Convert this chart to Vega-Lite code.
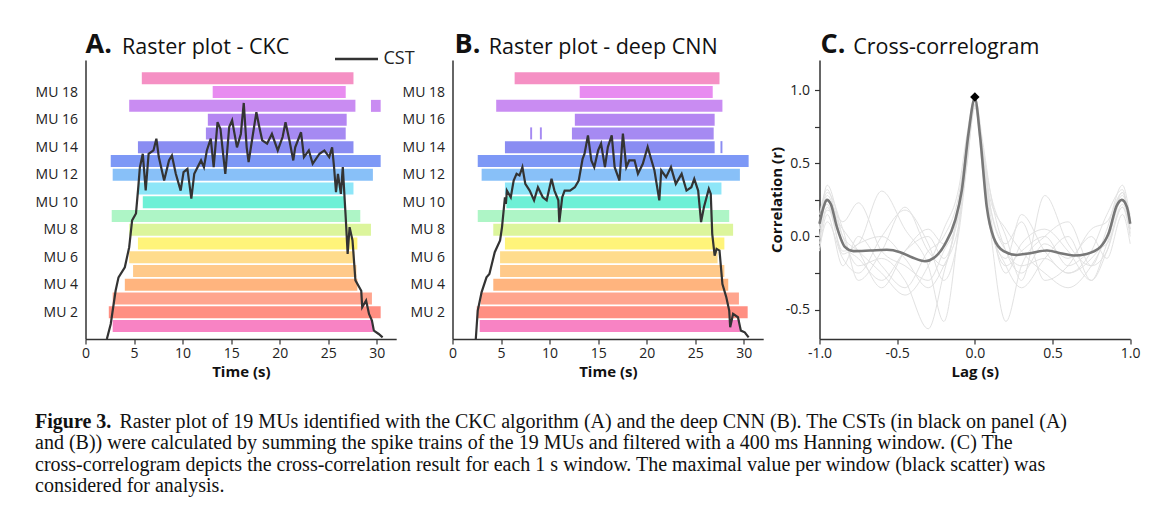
{
  "$schema": "https://vega.github.io/schema/vega-lite/v6.json",
  "background": "white",
  "padding": {"left": 34.5, "top": 31, "right": 10, "bottom": 10},
  "config": {
    "font": "Open Sans",
    "view": {"stroke": null},
    "axis": {"labelFont": "Open Sans", "labelFontSize": 14, "labelColor": "#222", "titleFont": "Open Sans", "titleFontSize": 15, "titleFontWeight": "bold", "titleColor": "#111", "domainColor": "#333", "domainWidth": 1.5, "tickColor": "#333", "tickWidth": 1.2, "grid": false, "labelFlush": false}
  },
  "datasets": {
    "rasterA": [
      {"mu": 1, "s": 2.8, "e": 29.6}, {"mu": 2, "s": 2.4, "e": 30.4}, {"mu": 3, "s": 2.8, "e": 29.5}, {"mu": 4, "s": 4.05, "e": 28.0},
      {"mu": 5, "s": 4.9, "e": 27.9}, {"mu": 6, "s": 4.5, "e": 27.7}, {"mu": 7, "s": 5.4, "e": 28.0}, {"mu": 8, "s": 4.5, "e": 29.4},
      {"mu": 9, "s": 2.7, "e": 28.3}, {"mu": 10, "s": 5.9, "e": 26.7}, {"mu": 11, "s": 5.4, "e": 27.6}, {"mu": 12, "s": 2.8, "e": 29.6},
      {"mu": 13, "s": 2.6, "e": 30.4}, {"mu": 14, "s": 5.4, "e": 27.6}, {"mu": 15, "s": 12.4, "e": 26.8}, {"mu": 16, "s": 12.6, "e": 26.9},
      {"mu": 17, "s": 4.5, "e": 27.8}, {"mu": 17, "s": 29.4, "e": 30.4}, {"mu": 18, "s": 13.1, "e": 26.8}, {"mu": 19, "s": 5.8, "e": 27.6}
    ],
    "rasterB": [
      {"mu": 1, "s": 2.8, "e": 29.6}, {"mu": 2, "s": 2.5, "e": 30.4}, {"mu": 3, "s": 2.9, "e": 29.5}, {"mu": 4, "s": 4.2, "e": 28.4},
      {"mu": 5, "s": 4.9, "e": 28.0}, {"mu": 6, "s": 4.9, "e": 27.3}, {"mu": 7, "s": 5.4, "e": 28.0}, {"mu": 8, "s": 4.2, "e": 28.9},
      {"mu": 9, "s": 2.6, "e": 28.5}, {"mu": 10, "s": 5.55, "e": 26.5}, {"mu": 11, "s": 5.4, "e": 27.7}, {"mu": 12, "s": 3.0, "e": 29.6},
      {"mu": 13, "s": 2.6, "e": 30.5}, {"mu": 14, "s": 5.4, "e": 27.0}, {"mu": 14, "s": 27.6, "e": 27.8}, {"mu": 15, "s": 8.0, "e": 8.2},
      {"mu": 15, "s": 9.0, "e": 9.2}, {"mu": 15, "s": 12.3, "e": 26.9}, {"mu": 16, "s": 12.6, "e": 27.0}, {"mu": 17, "s": 4.5, "e": 27.8},
      {"mu": 18, "s": 13.1, "e": 26.8}, {"mu": 19, "s": 6.4, "e": 27.5}
    ],
    "cstA": [
      {"t": 2.2, "v": 0}, {"t": 2.6, "v": 5.4}, {"t": 3.1, "v": 17.3}, {"t": 3.4, "v": 22.1}, {"t": 4.05, "v": 25.7}, {"t": 4.5, "v": 32.9},
      {"t": 4.8, "v": 42.5}, {"t": 5.2, "v": 45}, {"t": 5.45, "v": 55}, {"t": 5.6, "v": 61.5}, {"t": 5.9, "v": 66.4}, {"t": 6.2, "v": 53.3},
      {"t": 6.5, "v": 66.4}, {"t": 7.0, "v": 67.6}, {"t": 7.3, "v": 71.8}, {"t": 7.55, "v": 65.2}, {"t": 8.1, "v": 56.8}, {"t": 8.6, "v": 64.0},
      {"t": 8.9, "v": 65.8}, {"t": 9.3, "v": 59.2}, {"t": 9.8, "v": 53.2}, {"t": 10.1, "v": 59.8}, {"t": 10.5, "v": 61.0}, {"t": 10.9, "v": 50.3},
      {"t": 11.2, "v": 59.2}, {"t": 11.9, "v": 64.0}, {"t": 12.2, "v": 61.6}, {"t": 12.5, "v": 67.6}, {"t": 12.9, "v": 71.8}, {"t": 13.2, "v": 61.6},
      {"t": 13.6, "v": 77.7}, {"t": 13.9, "v": 75.3}, {"t": 14.1, "v": 68.7}, {"t": 14.4, "v": 59.2}, {"t": 14.8, "v": 76.0}, {"t": 15.1, "v": 78.4},
      {"t": 15.6, "v": 68.7}, {"t": 16.0, "v": 73.5}, {"t": 16.3, "v": 84.6}, {"t": 16.6, "v": 68.7}, {"t": 16.8, "v": 63.4}, {"t": 17.2, "v": 72.4},
      {"t": 17.6, "v": 81.3}, {"t": 17.9, "v": 76.0}, {"t": 18.2, "v": 71.2}, {"t": 18.7, "v": 70.0}, {"t": 19.2, "v": 73.5}, {"t": 19.8, "v": 67.6},
      {"t": 20.3, "v": 72.4}, {"t": 20.6, "v": 77.7}, {"t": 21.0, "v": 71.2}, {"t": 21.4, "v": 64.0}, {"t": 21.6, "v": 68.7}, {"t": 22.2, "v": 74.1},
      {"t": 22.5, "v": 65.2}, {"t": 23.0, "v": 67.6}, {"t": 23.4, "v": 62.8}, {"t": 24.1, "v": 66.4}, {"t": 24.6, "v": 67.6}, {"t": 25.1, "v": 65.2},
      {"t": 25.4, "v": 68.7}, {"t": 25.6, "v": 61.6}, {"t": 25.8, "v": 52.6}, {"t": 26.0, "v": 59.2}, {"t": 26.3, "v": 52.0}, {"t": 26.5, "v": 61.6},
      {"t": 26.8, "v": 43.6}, {"t": 27.0, "v": 30.5}, {"t": 27.2, "v": 40.1}, {"t": 27.5, "v": 35.3}, {"t": 27.8, "v": 21.0}, {"t": 28.4, "v": 17.3},
      {"t": 28.5, "v": 11.4}, {"t": 28.9, "v": 13.8}, {"t": 29.2, "v": 9.0}, {"t": 29.5, "v": 6.6}, {"t": 29.7, "v": 3.0}, {"t": 30.2, "v": 1.8},
      {"t": 30.6, "v": 0.6}
    ],
    "cstB": [
      {"t": 2.4, "v": 0}, {"t": 2.6, "v": 10.2}, {"t": 3.0, "v": 16.8}, {"t": 3.5, "v": 22.1}, {"t": 3.8, "v": 23.3}, {"t": 4.35, "v": 31.1},
      {"t": 4.9, "v": 35.3}, {"t": 5.1, "v": 40.1}, {"t": 5.4, "v": 50.8}, {"t": 5.5, "v": 48.4}, {"t": 5.6, "v": 53.2}, {"t": 6.0, "v": 50.8},
      {"t": 6.3, "v": 56.8}, {"t": 6.6, "v": 59.2}, {"t": 6.9, "v": 58.6}, {"t": 7.2, "v": 61.6}, {"t": 7.5, "v": 55.6}, {"t": 7.95, "v": 53.2},
      {"t": 8.4, "v": 49.7}, {"t": 8.8, "v": 54.4}, {"t": 9.3, "v": 50.8}, {"t": 9.7, "v": 49.7}, {"t": 10.2, "v": 57.4}, {"t": 10.5, "v": 53.2},
      {"t": 10.9, "v": 49.7}, {"t": 11.0, "v": 41.9}, {"t": 11.3, "v": 50.8}, {"t": 11.55, "v": 53.2}, {"t": 12.1, "v": 53.2}, {"t": 12.6, "v": 54.4},
      {"t": 13.0, "v": 56.8}, {"t": 13.4, "v": 64.6}, {"t": 13.6, "v": 66.4}, {"t": 13.95, "v": 73.0}, {"t": 14.3, "v": 64.0}, {"t": 14.6, "v": 61.6},
      {"t": 15.0, "v": 67.6}, {"t": 15.3, "v": 70.0}, {"t": 15.7, "v": 61.6}, {"t": 16.0, "v": 68.8}, {"t": 16.4, "v": 73.0}, {"t": 16.7, "v": 61.6},
      {"t": 17.2, "v": 56.8}, {"t": 17.55, "v": 73.6}, {"t": 17.9, "v": 61.6}, {"t": 18.2, "v": 64.0}, {"t": 18.75, "v": 64.0}, {"t": 19.1, "v": 59.2},
      {"t": 19.6, "v": 62.8}, {"t": 20.1, "v": 68.8}, {"t": 20.5, "v": 64.0}, {"t": 20.8, "v": 60.4}, {"t": 21.3, "v": 49.7}, {"t": 21.5, "v": 60.4},
      {"t": 22.0, "v": 58.0}, {"t": 22.5, "v": 61.6}, {"t": 23.0, "v": 55.6}, {"t": 23.6, "v": 59.2}, {"t": 24.1, "v": 53.2}, {"t": 24.6, "v": 54.4},
      {"t": 24.9, "v": 57.4}, {"t": 25.3, "v": 53.2}, {"t": 25.6, "v": 41.9}, {"t": 25.9, "v": 47.3}, {"t": 26.4, "v": 53.8}, {"t": 26.6, "v": 52.0},
      {"t": 26.75, "v": 37.7}, {"t": 27.0, "v": 29.9}, {"t": 27.2, "v": 32.3}, {"t": 27.5, "v": 31.7}, {"t": 27.8, "v": 19.7}, {"t": 28.2, "v": 15.0},
      {"t": 28.5, "v": 10.2}, {"t": 28.6, "v": 4.2}, {"t": 28.9, "v": 9.0}, {"t": 29.4, "v": 7.8}, {"t": 29.7, "v": 3.0}, {"t": 30.1, "v": 2.4},
      {"t": 30.5, "v": 0.6}
    ],
    "xcorr": [
      {"g": "g1", "lag": -1, "r": 0.05}, {"g": "g1", "lag": -0.95, "r": 0.35}, {"g": "g1", "lag": -0.85, "r": 0.0}, {"g": "g1", "lag": -0.75, "r": -0.2}, {"g": "g1", "lag": -0.6, "r": -0.15}, {"g": "g1", "lag": -0.45, "r": -0.3}, {"g": "g1", "lag": -0.3, "r": -0.63}, {"g": "g1", "lag": -0.2, "r": -0.25}, {"g": "g1", "lag": -0.1, "r": 0.2}, {"g": "g1", "lag": -0.05, "r": 0.6}, {"g": "g1", "lag": 0, "r": 0.9}, {"g": "g1", "lag": 0.05, "r": 0.6}, {"g": "g1", "lag": 0.1, "r": 0.2}, {"g": "g1", "lag": 0.2, "r": -0.1}, {"g": "g1", "lag": 0.3, "r": -0.2}, {"g": "g1", "lag": 0.45, "r": -0.15}, {"g": "g1", "lag": 0.6, "r": -0.25}, {"g": "g1", "lag": 0.75, "r": -0.15}, {"g": "g1", "lag": 0.85, "r": 0.0}, {"g": "g1", "lag": 0.95, "r": 0.3}, {"g": "g1", "lag": 1, "r": 0.1},
      {"g": "g2", "lag": -1, "r": -0.05}, {"g": "g2", "lag": -0.95, "r": 0.2}, {"g": "g2", "lag": -0.85, "r": -0.1}, {"g": "g2", "lag": -0.75, "r": -0.05}, {"g": "g2", "lag": -0.6, "r": 0.31}, {"g": "g2", "lag": -0.45, "r": 0.05}, {"g": "g2", "lag": -0.3, "r": -0.2}, {"g": "g2", "lag": -0.2, "r": -0.58}, {"g": "g2", "lag": -0.1, "r": 0.1}, {"g": "g2", "lag": -0.05, "r": 0.55}, {"g": "g2", "lag": 0, "r": 0.92}, {"g": "g2", "lag": 0.05, "r": 0.5}, {"g": "g2", "lag": 0.1, "r": 0.1}, {"g": "g2", "lag": 0.2, "r": -0.2}, {"g": "g2", "lag": 0.3, "r": -0.1}, {"g": "g2", "lag": 0.45, "r": 0.0}, {"g": "g2", "lag": 0.6, "r": -0.2}, {"g": "g2", "lag": 0.75, "r": -0.1}, {"g": "g2", "lag": 0.85, "r": -0.05}, {"g": "g2", "lag": 0.95, "r": 0.2}, {"g": "g2", "lag": 1, "r": 0.05},
      {"g": "g3", "lag": -1, "r": 0.1}, {"g": "g3", "lag": -0.95, "r": 0.3}, {"g": "g3", "lag": -0.85, "r": 0.05}, {"g": "g3", "lag": -0.75, "r": -0.3}, {"g": "g3", "lag": -0.6, "r": -0.1}, {"g": "g3", "lag": -0.45, "r": 0.2}, {"g": "g3", "lag": -0.3, "r": -0.1}, {"g": "g3", "lag": -0.2, "r": -0.2}, {"g": "g3", "lag": -0.1, "r": 0.25}, {"g": "g3", "lag": -0.05, "r": 0.6}, {"g": "g3", "lag": 0, "r": 0.9}, {"g": "g3", "lag": 0.05, "r": 0.55}, {"g": "g3", "lag": 0.1, "r": 0.05}, {"g": "g3", "lag": 0.2, "r": -0.58}, {"g": "g3", "lag": 0.3, "r": -0.2}, {"g": "g3", "lag": 0.45, "r": 0.0}, {"g": "g3", "lag": 0.6, "r": 0.1}, {"g": "g3", "lag": 0.75, "r": -0.2}, {"g": "g3", "lag": 0.85, "r": 0.05}, {"g": "g3", "lag": 0.95, "r": 0.35}, {"g": "g3", "lag": 1, "r": 0.12},
      {"g": "g4", "lag": -1, "r": -0.1}, {"g": "g4", "lag": -0.95, "r": 0.15}, {"g": "g4", "lag": -0.85, "r": -0.2}, {"g": "g4", "lag": -0.75, "r": 0.0}, {"g": "g4", "lag": -0.6, "r": -0.2}, {"g": "g4", "lag": -0.45, "r": -0.35}, {"g": "g4", "lag": -0.3, "r": -0.1}, {"g": "g4", "lag": -0.2, "r": 0.0}, {"g": "g4", "lag": -0.1, "r": 0.3}, {"g": "g4", "lag": -0.05, "r": 0.65}, {"g": "g4", "lag": 0, "r": 0.95}, {"g": "g4", "lag": 0.05, "r": 0.6}, {"g": "g4", "lag": 0.1, "r": 0.3}, {"g": "g4", "lag": 0.2, "r": 0.0}, {"g": "g4", "lag": 0.3, "r": -0.3}, {"g": "g4", "lag": 0.45, "r": 0.28}, {"g": "g4", "lag": 0.6, "r": -0.05}, {"g": "g4", "lag": 0.75, "r": -0.2}, {"g": "g4", "lag": 0.85, "r": -0.1}, {"g": "g4", "lag": 0.95, "r": 0.2}, {"g": "g4", "lag": 1, "r": 0.0},
      {"g": "g5", "lag": -1, "r": 0.0}, {"g": "g5", "lag": -0.95, "r": 0.25}, {"g": "g5", "lag": -0.85, "r": 0.1}, {"g": "g5", "lag": -0.75, "r": 0.23}, {"g": "g5", "lag": -0.6, "r": -0.1}, {"g": "g5", "lag": -0.45, "r": -0.2}, {"g": "g5", "lag": -0.3, "r": -0.3}, {"g": "g5", "lag": -0.2, "r": -0.1}, {"g": "g5", "lag": -0.1, "r": 0.15}, {"g": "g5", "lag": -0.05, "r": 0.5}, {"g": "g5", "lag": 0, "r": 0.88}, {"g": "g5", "lag": 0.05, "r": 0.55}, {"g": "g5", "lag": 0.1, "r": 0.2}, {"g": "g5", "lag": 0.2, "r": -0.05}, {"g": "g5", "lag": 0.3, "r": 0.1}, {"g": "g5", "lag": 0.45, "r": -0.3}, {"g": "g5", "lag": 0.6, "r": -0.2}, {"g": "g5", "lag": 0.75, "r": 0.05}, {"g": "g5", "lag": 0.85, "r": 0.1}, {"g": "g5", "lag": 0.95, "r": 0.3}, {"g": "g5", "lag": 1, "r": 0.05},
      {"g": "g6", "lag": -1, "r": 0.15}, {"g": "g6", "lag": -0.95, "r": 0.32}, {"g": "g6", "lag": -0.85, "r": -0.05}, {"g": "g6", "lag": -0.75, "r": -0.15}, {"g": "g6", "lag": -0.6, "r": -0.3}, {"g": "g6", "lag": -0.45, "r": -0.1}, {"g": "g6", "lag": -0.3, "r": 0.0}, {"g": "g6", "lag": -0.2, "r": -0.15}, {"g": "g6", "lag": -0.1, "r": 0.2}, {"g": "g6", "lag": -0.05, "r": 0.58}, {"g": "g6", "lag": 0, "r": 0.93}, {"g": "g6", "lag": 0.05, "r": 0.52}, {"g": "g6", "lag": 0.1, "r": 0.1}, {"g": "g6", "lag": 0.2, "r": -0.2}, {"g": "g6", "lag": 0.3, "r": -0.35}, {"g": "g6", "lag": 0.45, "r": -0.15}, {"g": "g6", "lag": 0.6, "r": 0.0}, {"g": "g6", "lag": 0.75, "r": -0.3}, {"g": "g6", "lag": 0.85, "r": -0.05}, {"g": "g6", "lag": 0.95, "r": 0.25}, {"g": "g6", "lag": 1, "r": 0.15},
      {"g": "g7", "lag": -1, "r": -0.08}, {"g": "g7", "lag": -0.95, "r": 0.1}, {"g": "g7", "lag": -0.85, "r": -0.15}, {"g": "g7", "lag": -0.75, "r": -0.25}, {"g": "g7", "lag": -0.6, "r": 0.0}, {"g": "g7", "lag": -0.45, "r": 0.18}, {"g": "g7", "lag": -0.3, "r": -0.05}, {"g": "g7", "lag": -0.2, "r": -0.3}, {"g": "g7", "lag": -0.1, "r": 0.05}, {"g": "g7", "lag": -0.05, "r": 0.5}, {"g": "g7", "lag": 0, "r": 0.9}, {"g": "g7", "lag": 0.05, "r": 0.45}, {"g": "g7", "lag": 0.1, "r": 0.05}, {"g": "g7", "lag": 0.2, "r": -0.15}, {"g": "g7", "lag": 0.3, "r": 0.15}, {"g": "g7", "lag": 0.45, "r": -0.1}, {"g": "g7", "lag": 0.6, "r": -0.25}, {"g": "g7", "lag": 0.75, "r": -0.1}, {"g": "g7", "lag": 0.85, "r": 0.15}, {"g": "g7", "lag": 0.95, "r": 0.32}, {"g": "g7", "lag": 1, "r": 0.02},
      {"g": "g8", "lag": -1, "r": 0.05}, {"g": "g8", "lag": -0.95, "r": 0.28}, {"g": "g8", "lag": -0.85, "r": 0.0}, {"g": "g8", "lag": -0.75, "r": -0.1}, {"g": "g8", "lag": -0.6, "r": -0.25}, {"g": "g8", "lag": -0.45, "r": -0.4}, {"g": "g8", "lag": -0.3, "r": -0.2}, {"g": "g8", "lag": -0.2, "r": 0.05}, {"g": "g8", "lag": -0.1, "r": 0.35}, {"g": "g8", "lag": -0.05, "r": 0.7}, {"g": "g8", "lag": 0, "r": 0.95}, {"g": "g8", "lag": 0.05, "r": 0.65}, {"g": "g8", "lag": 0.1, "r": 0.3}, {"g": "g8", "lag": 0.2, "r": -0.1}, {"g": "g8", "lag": 0.3, "r": -0.25}, {"g": "g8", "lag": 0.45, "r": -0.05}, {"g": "g8", "lag": 0.6, "r": -0.15}, {"g": "g8", "lag": 0.75, "r": 0.0}, {"g": "g8", "lag": 0.85, "r": -0.15}, {"g": "g8", "lag": 0.95, "r": 0.15}, {"g": "g8", "lag": 1, "r": -0.05},
      {"g": "g9", "lag": -1, "r": 0.12}, {"g": "g9", "lag": -0.95, "r": 0.22}, {"g": "g9", "lag": -0.85, "r": -0.12}, {"g": "g9", "lag": -0.75, "r": -0.05}, {"g": "g9", "lag": -0.6, "r": 0.0}, {"g": "g9", "lag": -0.45, "r": -0.15}, {"g": "g9", "lag": -0.3, "r": -0.35}, {"g": "g9", "lag": -0.2, "r": -0.2}, {"g": "g9", "lag": -0.1, "r": 0.1}, {"g": "g9", "lag": -0.05, "r": 0.55}, {"g": "g9", "lag": 0, "r": 0.9}, {"g": "g9", "lag": 0.05, "r": 0.6}, {"g": "g9", "lag": 0.1, "r": 0.25}, {"g": "g9", "lag": 0.2, "r": 0.05}, {"g": "g9", "lag": 0.3, "r": -0.1}, {"g": "g9", "lag": 0.45, "r": -0.25}, {"g": "g9", "lag": 0.6, "r": -0.35}, {"g": "g9", "lag": 0.75, "r": -0.2}, {"g": "g9", "lag": 0.85, "r": 0.0}, {"g": "g9", "lag": 0.95, "r": 0.28}, {"g": "g9", "lag": 1, "r": 0.1},
      {"g": "g10", "lag": -1, "r": -0.02}, {"g": "g10", "lag": -0.95, "r": 0.18}, {"g": "g10", "lag": -0.85, "r": 0.05}, {"g": "g10", "lag": -0.75, "r": -0.1}, {"g": "g10", "lag": -0.6, "r": -0.35}, {"g": "g10", "lag": -0.45, "r": -0.1}, {"g": "g10", "lag": -0.3, "r": 0.05}, {"g": "g10", "lag": -0.2, "r": -0.05}, {"g": "g10", "lag": -0.1, "r": 0.25}, {"g": "g10", "lag": -0.05, "r": 0.62}, {"g": "g10", "lag": 0, "r": 0.92}, {"g": "g10", "lag": 0.05, "r": 0.58}, {"g": "g10", "lag": 0.1, "r": 0.15}, {"g": "g10", "lag": 0.2, "r": -0.25}, {"g": "g10", "lag": 0.3, "r": -0.05}, {"g": "g10", "lag": 0.45, "r": 0.05}, {"g": "g10", "lag": 0.6, "r": -0.1}, {"g": "g10", "lag": 0.75, "r": -0.3}, {"g": "g10", "lag": 0.85, "r": -0.1}, {"g": "g10", "lag": 0.95, "r": 0.22}, {"g": "g10", "lag": 1, "r": 0.08}
    ],
    "meanC": [
      {"lag": -1, "r": 0.087}, {"lag": -0.974, "r": 0.2}, {"lag": -0.953, "r": 0.25}, {"lag": -0.927, "r": 0.22}, {"lag": -0.888, "r": 0.064},
      {"lag": -0.835, "r": -0.073}, {"lag": -0.781, "r": -0.1}, {"lag": -0.674, "r": -0.096}, {"lag": -0.567, "r": -0.091}, {"lag": -0.481, "r": -0.107},
      {"lag": -0.406, "r": -0.142}, {"lag": -0.32, "r": -0.169}, {"lag": -0.266, "r": -0.148}, {"lag": -0.191, "r": -0.05}, {"lag": -0.127, "r": 0.11},
      {"lag": -0.084, "r": 0.315}, {"lag": -0.041, "r": 0.703}, {"lag": 0, "r": 0.943}, {"lag": 0.034, "r": 0.68}, {"lag": 0.077, "r": 0.2},
      {"lag": 0.12, "r": -0.005}, {"lag": 0.185, "r": -0.1}, {"lag": 0.27, "r": -0.126}, {"lag": 0.356, "r": -0.114}, {"lag": 0.464, "r": -0.096},
      {"lag": 0.55, "r": -0.114}, {"lag": 0.635, "r": -0.13}, {"lag": 0.72, "r": -0.119}, {"lag": 0.807, "r": -0.073}, {"lag": 0.86, "r": 0.018},
      {"lag": 0.914, "r": 0.212}, {"lag": 0.946, "r": 0.25}, {"lag": 0.979, "r": 0.2}, {"lag": 1, "r": 0.087}
    ],
    "peakC": [{"lag": 0, "r": 0.953}],
    "caption": [
      {"line": 1, "part": "b", "text": "Figure 3."},
      {"line": 1, "part": "h", "text": "Raster plot of 19 MUs identified with the CKC algorithm (A) and the deep CNN (B). The CSTs (in black on panel (A)"},
      {"line": 2, "part": "n", "text": "and (B)) were calculated by summing the spike trains of the 19 MUs and filtered with a 400 ms Hanning window. (C) The"},
      {"line": 3, "part": "n", "text": "cross-correlogram depicts the cross-correlation result for each 1 s window. The maximal value per window (black scatter) was"},
      {"line": 4, "part": "n", "text": "considered for analysis."}
    ]
  },
  "vconcat": [
    {
      "hconcat": [
        {
          "width": 310.7, "height": 279,
          "layer": [
            {
              "data": {"name": "rasterA"},
              "mark": {"type": "bar", "size": 12},
              "encoding": {
                "x": {"field": "s", "type": "quantitative", "scale": {"domain": [0, 32], "nice": false}, "axis": {"values": [0, 2.5, 5, 7.5, 10, 12.5, 15, 17.5, 20, 22.5, 25, 27.5, 30], "labelExpr": "datum.value % 5 === 0 ? format(datum.value, 'd') : ''", "title": "Time (s)", "tickSize": 5}},
                "x2": {"field": "e"},
                "y": {"field": "mu", "type": "quantitative", "scale": {"domain": [0.42, 19.97], "nice": false, "zero": false}, "axis": {"values": [2, 4, 6, 8, 10, 12, 14, 16, 18], "labelExpr": "'MU ' + datum.value", "ticks": false, "labelPadding": 8, "title": null}},
                "color": {"field": "mu", "type": "nominal", "legend": null, "scale": {"domain": [1,2,3,4,5,6,7,8,9,10,11,12,13,14,15,16,17,18,19], "range": ["#f883c4","#ff8f82","#ffa58e","#ffb47e","#ffc98a","#ffdc8c","#fff47a","#dcf59c","#aef5c6","#6ef0d6","#8ee6f8","#88c0f8","#7d98f6","#8a8cf2","#a68af2","#b486f2","#c98cf2","#e88cf0","#f590c4"]}}
              }
            },
            {
              "data": {"name": "cstA"},
              "mark": {"type": "line", "strokeWidth": 2.2},
              "encoding": {
                "x": {"field": "t", "type": "quantitative"},
                "y": {"field": "v", "type": "quantitative", "scale": {"domain": [0, 100], "nice": false}, "axis": null},
                "stroke": {"datum": "CST", "type": "nominal", "scale": {"range": ["#333333"]}, "legend": {"orient": "none", "legendX": 248, "legendY": -24, "title": null, "symbolType": "stroke", "symbolSize": 1849, "symbolStrokeWidth": 2.5, "labelFont": "Open Sans", "labelFontSize": 18, "labelColor": "#222", "padding": 0, "labelOffset": 4}}
              }
            },
            {
              "data": {"values": [{}]},
              "mark": {"type": "text", "text": "A.", "align": "left", "baseline": "alphabetic", "dy": -7, "font": "Open Sans", "fontSize": 27, "fontWeight": "bold", "color": "#111"},
              "encoding": {
                "x": {"datum": 0, "type": "quantitative"},
                "y": {"datum": 100, "type": "quantitative", "scale": {"domain": [0, 100], "nice": false}, "axis": null}
              }
            },
            {
              "data": {"values": [{}]},
              "mark": {"type": "text", "text": "Raster plot - CKC", "align": "left", "baseline": "alphabetic", "dx": 36.6, "dy": -6.5, "font": "Open Sans", "fontSize": 21.5, "color": "#111"},
              "encoding": {
                "x": {"datum": 0, "type": "quantitative"},
                "y": {"datum": 100, "type": "quantitative", "scale": {"domain": [0, 100], "nice": false}, "axis": null}
              }
            }
          ],
          "resolve": {"scale": {"y": "independent"}}
        },
        {
          "width": 310.7, "height": 279,
          "layer": [
            {
              "data": {"name": "rasterB"},
              "mark": {"type": "bar", "size": 12},
              "encoding": {
                "x": {"field": "s", "type": "quantitative", "scale": {"domain": [0, 32], "nice": false}, "axis": {"values": [0, 2.5, 5, 7.5, 10, 12.5, 15, 17.5, 20, 22.5, 25, 27.5, 30], "labelExpr": "datum.value % 5 === 0 ? format(datum.value, 'd') : ''", "title": "Time (s)", "tickSize": 5}},
                "x2": {"field": "e"},
                "y": {"field": "mu", "type": "quantitative", "scale": {"domain": [0.42, 19.97], "nice": false, "zero": false}, "axis": {"values": [2, 4, 6, 8, 10, 12, 14, 16, 18], "labelExpr": "'MU ' + datum.value", "ticks": false, "labelPadding": 8, "title": null}},
                "color": {"field": "mu", "type": "nominal", "legend": null, "scale": {"domain": [1,2,3,4,5,6,7,8,9,10,11,12,13,14,15,16,17,18,19], "range": ["#f883c4","#ff8f82","#ffa58e","#ffb47e","#ffc98a","#ffdc8c","#fff47a","#dcf59c","#aef5c6","#6ef0d6","#8ee6f8","#88c0f8","#7d98f6","#8a8cf2","#a68af2","#b486f2","#c98cf2","#e88cf0","#f590c4"]}}
              }
            },
            {
              "data": {"name": "cstB"},
              "mark": {"type": "line", "strokeWidth": 2.2, "color": "#333333"},
              "encoding": {
                "x": {"field": "t", "type": "quantitative"},
                "y": {"field": "v", "type": "quantitative", "scale": {"domain": [0, 100], "nice": false}, "axis": null}
              }
            },
            {
              "data": {"values": [{}]},
              "mark": {"type": "text", "text": "B.", "align": "left", "baseline": "alphabetic", "dx": 2, "dy": -7, "font": "Open Sans", "fontSize": 27, "fontWeight": "bold", "color": "#111"},
              "encoding": {
                "x": {"datum": 0, "type": "quantitative"},
                "y": {"datum": 100, "type": "quantitative", "scale": {"domain": [0, 100], "nice": false}, "axis": null}
              }
            },
            {
              "data": {"values": [{}]},
              "mark": {"type": "text", "text": "Raster plot - deep CNN", "align": "left", "baseline": "alphabetic", "dx": 36.3, "dy": -6.5, "font": "Open Sans", "fontSize": 21.5, "color": "#111"},
              "encoding": {
                "x": {"datum": 0, "type": "quantitative"},
                "y": {"datum": 100, "type": "quantitative", "scale": {"domain": [0, 100], "nice": false}, "axis": null}
              }
            }
          ],
          "resolve": {"scale": {"y": "independent"}}
        },
        {
          "width": 310.7, "height": 279,
          "layer": [
            {
              "data": {"name": "xcorr"},
              "mark": {"type": "line", "interpolate": "monotone", "strokeWidth": 1, "color": "#e2e2e2"},
              "encoding": {
                "x": {"field": "lag", "type": "quantitative", "scale": {"domain": [-1, 1], "nice": false}, "axis": {"values": [-1, -0.75, -0.5, -0.25, 0, 0.25, 0.5, 0.75, 1], "labelExpr": "datum.value % 0.5 === 0 ? replace(format(datum.value, '.1f'), '\u2212', '-') : ''", "title": "Lag (s)", "tickSize": 5}},
                "y": {"field": "r", "type": "quantitative", "scale": {"domain": [-0.7, 1.205], "nice": false, "zero": false}, "axis": {"values": [-0.5, -0.25, 0, 0.25, 0.5, 0.75, 1], "labelExpr": "datum.value % 0.5 === 0 ? replace(format(datum.value, '.1f'), '\u2212', '-') : ''", "title": "Correlation (r)", "tickSize": 5, "labelPadding": 5, "titlePadding": 1}},
                "detail": {"field": "g", "type": "nominal"}
              }
            },
            {
              "data": {"name": "meanC"},
              "mark": {"type": "line", "interpolate": "monotone", "strokeWidth": 2.6, "color": "#787878"},
              "encoding": {
                "x": {"field": "lag", "type": "quantitative"},
                "y": {"field": "r", "type": "quantitative"}
              }
            },
            {
              "data": {"name": "peakC"},
              "mark": {"type": "point", "shape": "diamond", "filled": true, "size": 90, "color": "#000000", "opacity": 1},
              "encoding": {
                "x": {"field": "lag", "type": "quantitative"},
                "y": {"field": "r", "type": "quantitative"}
              }
            },
            {
              "data": {"values": [{}]},
              "mark": {"type": "text", "text": "C.", "align": "left", "baseline": "alphabetic", "dx": 1, "dy": -7, "font": "Open Sans", "fontSize": 27, "fontWeight": "bold", "color": "#111"},
              "encoding": {
                "x": {"datum": -1, "type": "quantitative"},
                "y": {"datum": 1.205, "type": "quantitative"}
              }
            },
            {
              "data": {"values": [{}]},
              "mark": {"type": "text", "text": "Cross-correlogram", "align": "left", "baseline": "alphabetic", "dx": 33.7, "dy": -6.5, "font": "Open Sans", "fontSize": 21.5, "color": "#111"},
              "encoding": {
                "x": {"datum": -1, "type": "quantitative"},
                "y": {"datum": 1.205, "type": "quantitative"}
              }
            }
          ]
        }
      ],
      "spacing": 56,
      "bounds": "flush",
      "resolve": {"scale": {"color": "independent", "stroke": "independent", "x": "independent", "y": "independent"}, "legend": {"color": "independent", "stroke": "independent"}}
    },
    {
      "width": 1110, "height": 86,
      "data": {"name": "caption"},
      "encoding": {
        "x": {"datum": 0, "type": "quantitative", "scale": {"domain": [0, 1]}, "axis": null},
        "y": {"field": "line", "type": "ordinal", "scale": {"type": "point", "padding": 0.5}, "axis": null},
        "text": {"field": "text"}
      },
      "layer": [
        {"transform": [{"filter": "datum.part == 'b'"}], "mark": {"type": "text", "align": "left", "baseline": "middle", "font": "Liberation Serif", "fontSize": 20, "fontWeight": "bold", "color": "#111", "dx": -50.5}},
        {"transform": [{"filter": "datum.part == 'h'"}], "mark": {"type": "text", "align": "left", "baseline": "middle", "font": "Liberation Serif", "fontSize": 20, "color": "#111", "dx": 34}},
        {"transform": [{"filter": "datum.part == 'n'"}], "mark": {"type": "text", "align": "left", "baseline": "middle", "font": "Liberation Serif", "fontSize": 20, "color": "#111", "dx": -50.5}}
      ]
    }
  ],
  "spacing": 32
}
